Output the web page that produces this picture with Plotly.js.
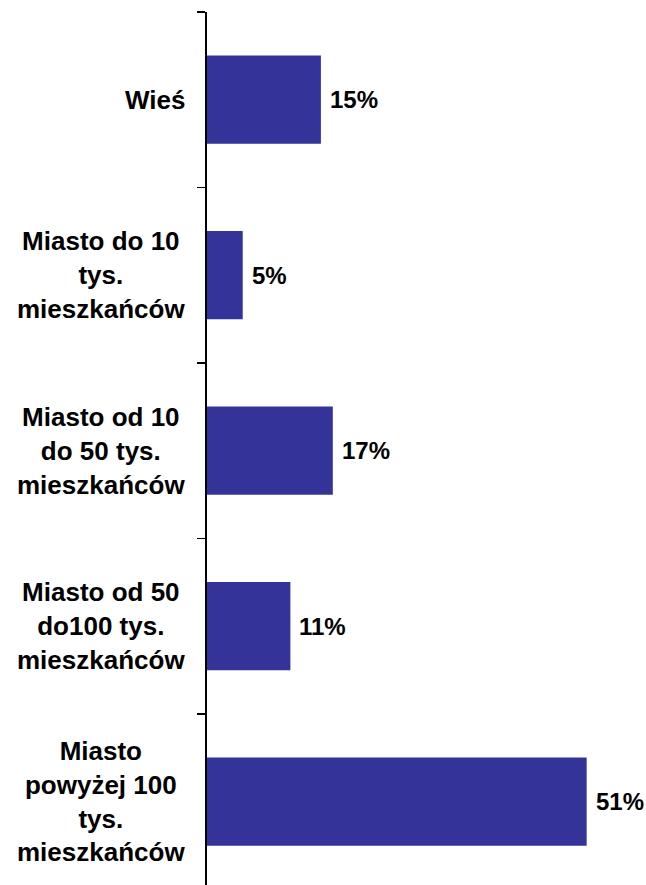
<!DOCTYPE html>
<html>
<head>
<meta charset="utf-8">
<script src="https://cdn.plot.ly/plotly-3.0.1.min.js"></script>
<style>
  html, body { margin: 0; padding: 0; background: #ffffff; }
  #chart { width: 646px; height: 885px; }
</style>
</head>
<body>
<div id="chart"></div>
<script>
// Categories (top to bottom)
var categories = [
  "Wieś",
  "Miasto do 10<br>tys.<br>mieszkańców",
  "Miasto od 10<br>do 50 tys.<br>mieszkańców",
  "Miasto od 50<br>do100 tys.<br>mieszkańców",
  "Miasto<br>powyżej 100<br>tys.<br>mieszkańców"
];
// Bar lengths (percent)
var values = [15.3, 4.8, 16.9, 11.2, 51.0];
// Value labels as printed
var valueLabels = ["15%", "5%", "17%", "11%", "51%"];

var barColor = "#333399";
var fontFamily = "Liberation Sans, Arial, sans-serif";

var trace = {
  type: "bar",
  orientation: "h",
  y: categories,
  x: values,
  marker: { color: barColor, line: { width: 0 } },
  hoverinfo: "none"
};

var annotations = [];
// Category labels (centered lines, right-aligned block)
categories.forEach(function (c) {
  annotations.push({
    xref: "x", yref: "y",
    x: 0, y: c,
    xanchor: "right", yanchor: "middle",
    xshift: -20,
    text: "<b>" + c + "</b>",
    align: "center",
    showarrow: false,
    font: { family: fontFamily, size: 26, color: "#000000" }
  });
});
// Value labels
categories.forEach(function (c, i) {
  annotations.push({
    xref: "x", yref: "y",
    x: values[i], y: c,
    xanchor: "left", yanchor: "middle",
    xshift: 7,
    text: "<b>" + valueLabels[i] + "</b>",
    showarrow: false,
    font: { family: fontFamily, size: 24, color: "#000000" }
  });
});

var layout = {
  width: 646,
  height: 885,
  margin: { l: 207, r: 0, t: 12, b: 0, pad: 0 },
  paper_bgcolor: "#ffffff",
  plot_bgcolor: "#ffffff",
  showlegend: false,
  bargap: 0.497,
  font: { family: fontFamily, color: "#000000" },
  xaxis: {
    range: [0, 58.97],
    showgrid: false,
    zeroline: false,
    showline: false,
    showticklabels: false,
    ticks: "",
    fixedrange: true
  },
  yaxis: {
    type: "category",
    categoryorder: "array",
    categoryarray: categories,
    range: [4.475, -0.5],
    showgrid: false,
    zeroline: false,
    showline: true,
    linecolor: "#000000",
    linewidth: 2,
    ticks: "outside",
    tickson: "boundaries",
    ticklen: 8,
    tickwidth: 1.5,
    tickcolor: "#000000",
    showticklabels: false,
    fixedrange: true
  },
  annotations: annotations
};

Plotly.newPlot("chart", [trace], layout, { displayModeBar: false, staticPlot: true });
</script>
</body>
</html>
